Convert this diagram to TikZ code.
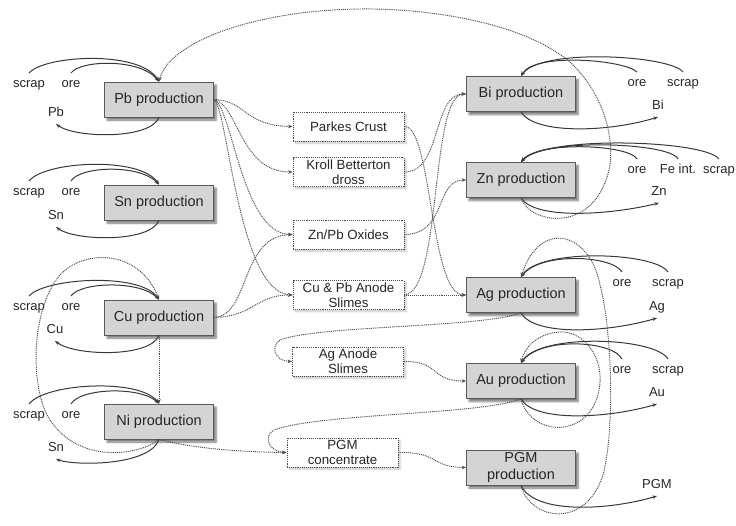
\documentclass[tikz,border=0pt]{standalone}
\usepackage{fontspec}
\setmainfont{Liberation Sans}
\usetikzlibrary{arrows.meta,shadows.blur}

\begin{document}
\begin{tikzpicture}[x=1pt,y=-1pt,
  prod/.style={draw=black!65, line width=0.8pt, fill=black!17,
    minimum width=109pt, minimum height=35pt, inner sep=2pt, align=center,
    font=\fontsize{14.5}{16.5}\selectfont, text=black!85,
    blur shadow={shadow xshift=2.5pt, shadow yshift=-3pt, shadow blur steps=6, shadow opacity=55}},
  inter/.style={draw=black!70, line width=0.9pt, dash pattern=on 1pt off 0.9pt, fill=white,
    minimum width=111pt, minimum height=29pt, inner sep=1pt, align=center,
    font=\fontsize{13.3}{15}\selectfont, text=black!85,
    blur shadow={shadow xshift=2pt, shadow yshift=-2pt, shadow blur steps=5, shadow opacity=22}},
  lab/.style={font=\fontsize{13}{15}\selectfont, text=black!85, inner sep=1pt, outer sep=4pt,
    text height=9pt, text depth=3pt},
  flow/.style={draw=black!78, line width=1pt, -{Stealth[length=4.5pt,width=3.5pt]}},
  link/.style={draw=black!70, line width=0.95pt, dash pattern=on 1pt off 0.9pt,
    -{Stealth[length=4.5pt,width=3.5pt]}},
]
\useasboundingbox (0,0) rectangle (736,525);

% production stages
\node[prod] (pb) at (159,99.5) {Pb production};
\node[prod] (sn) at (159,202.5) {Sn production};
\node[prod] (cu) at (159,317.5) {Cu production};
\node[prod] (ni) at (159,421.5) {Ni production};
\node[prod] (bi) at (521,94) {Bi production};
\node[prod] (zn) at (521,180) {Zn production};
\node[prod] (ag) at (521,295) {Ag production};
\node[prod] (au) at (521,381) {Au production};
\node[prod] (pgmp) at (521,467.5) {PGM\\production};

% intermediate products
\node[inter] (pc) at (348.5,126.5) {Parkes Crust};
\node[inter] (kb) at (348.5,172) {Kroll Betterton\\dross};
\node[inter] (zpo) at (348.5,234.5) {Zn/Pb Oxides};
\node[inter] (cpa) at (348.5,295) {Cu \& Pb Anode\\Slimes};
\node[inter] (aas) at (348,361.5) {Ag Anode\\Slimes};
\node[inter] (pgmc) at (342.5,452.5) {PGM\\concentrate};

% raw materials and metals, left column
\node[lab] (pbs) at (29,84) {scrap};
\node[lab] (pbo) at (71,84) {ore};
\node[lab] (pbm) at (56,113) {Pb};
\node[lab] (sns) at (29,192) {scrap};
\node[lab] (sno) at (71,192) {ore};
\node[lab] (snm) at (56,216) {Sn};
\node[lab] (cus) at (29,307) {scrap};
\node[lab] (cuo) at (71,307) {ore};
\node[lab] (cum) at (55,330) {Cu};
\node[lab] (nis) at (29,415) {scrap};
\node[lab] (nio) at (71,415) {ore};
\node[lab] (nim) at (56,448) {Sn};

% raw materials and metals, right column
\node[lab] (bio) at (637,83) {ore};
\node[lab] (bis) at (683,83) {scrap};
\node[lab] (bim) at (658,106) {Bi};
\node[lab] (zno) at (637,170) {ore};
\node[lab] (znf) at (678,170) {Fe int.};
\node[lab] (zns) at (719,170) {scrap};
\node[lab] (znm) at (659,192) {Zn};
\node[lab] (ago) at (622,283) {ore};
\node[lab] (ags) at (668,283) {scrap};
\node[lab] (agm) at (657,307) {Ag};
\node[lab] (auo) at (622,370) {ore};
\node[lab] (aus) at (668,370) {scrap};
\node[lab] (aum) at (657,393) {Au};
\node[lab] (pgmm) at (657,485) {PGM};

% feeds and products, left column
\draw[flow] (pbs.north) .. controls (45,55) and (140,50) .. (pb.north);
\draw[flow] (pbo.north) .. controls (80,60) and (140,58) .. (pb.north);
\draw[flow] (pb.south) .. controls (150,140) and (75,138) .. (pbm.south);
\draw[flow] (sns.north) .. controls (45,161) and (140,156) .. (sn.north);
\draw[flow] (sno.north) .. controls (80,166) and (140,164) .. (sn.north);
\draw[flow] (sn.south) .. controls (150,243) and (75,241) .. (snm.south);
\draw[flow] (cus.north) .. controls (45,278) and (140,272) .. (cu.north);
\draw[flow] (cuo.north) .. controls (80,282) and (140,280) .. (cu.north);
\draw[flow] (cu.south) .. controls (150,358) and (75,356) .. (cum.south);
\draw[flow] (nis.north) .. controls (45,383) and (140,378) .. (ni.north);
\draw[flow] (nio.north) .. controls (80,388) and (140,386) .. (ni.north);
\draw[flow] (ni.south) .. controls (150,466) and (75,466) .. (nim.south);

% feeds and products, right column
\draw[flow] (bio.north) .. controls (625,60) and (535,52) .. (bi.north);
\draw[flow] (bis.north) .. controls (670,55) and (540,48) .. (bi.north);
\draw[flow] (bi.south) .. controls (535,135) and (610,132) .. (bim.south);
\draw[flow] (zno.north) .. controls (630,145) and (540,140) .. (zn.north);
\draw[flow] (znf.north) .. controls (670,142) and (540,138) .. (zn.north);
\draw[flow] (zns.north) .. controls (705,140) and (545,135) .. (zn.north);
\draw[flow] (zn.south) .. controls (535,220) and (610,215) .. (znm.south);
\draw[flow] (ago.north) .. controls (612,255) and (540,252) .. (ag.north);
\draw[flow] (ags.north) .. controls (655,252) and (540,248) .. (ag.north);
\draw[flow] (ag.south) .. controls (535,337) and (610,332) .. (agm.south);
\draw[flow] (auo.north) .. controls (612,340) and (540,337) .. (au.north);
\draw[flow] (aus.north) .. controls (655,337) and (540,333) .. (au.north);
\draw[flow] (au.south) .. controls (535,423) and (610,418) .. (aum.south);
\draw[flow] (pgmp.south) .. controls (535,515) and (610,510) .. (pgmm.south);

% by-product routes
\draw[link] (pb.east) .. controls (245,100) and (245,126) .. (pc.west);
\draw[link] (pb.east) .. controls (238,104) and (240,172) .. (kb.west);
\draw[link] (pb.east) .. controls (232,106) and (242,234) .. (zpo.west);
\draw[link] (pb.east) .. controls (228,108) and (238,292) .. (cpa.west);
\draw[link] (cu.east) .. controls (250,316) and (240,236) .. (zpo.west);
\draw[link] (cu.east) .. controls (255,316) and (255,295) .. (cpa.west);
\draw[link] (pc.east) .. controls (432,126) and (430,295) .. (ag.west);
\draw[link] (kb.east) .. controls (442,172) and (432,94) .. (bi.west);
\draw[link] (zpo.east) .. controls (447,234) and (435,180) .. (zn.west);
\draw[link] (cpa.east) -- (ag.west);
\draw[link] (cpa.east) .. controls (442,292) and (430,94) .. (bi.west);
\draw[link] (cu.south) -- (ni.north);
\draw[link] (ni.south) .. controls (200,450) and (250,452) .. (pgmc.west);
\draw[link] (aas.east) .. controls (440,361) and (430,381) .. (au.west);
\draw[link] (pgmc.east) .. controls (440,452) and (430,467) .. (pgmp.west);

% residues returned to other stages
\draw[link] (zn.south) .. controls (530,225) and (597,235) .. (610,165)
  .. controls (614,130) and (600,90) .. (570,62)
  .. controls (520,20) and (420,8) .. (360,9)
  .. controls (260,10) and (170,40) .. (pb.north);
\draw[link] (ni.south) .. controls (140,455) and (80,465) .. (50,420)
  .. controls (30,390) and (30,310) .. (60,275)
  .. controls (85,248) and (140,250) .. (cu.north);
\draw[link] (ag.south) .. controls (480,328) and (320,325) .. (280,340)
  .. controls (270,347) and (275,361) .. (aas.west);
\draw[link] (au.south) .. controls (480,415) and (320,413) .. (274,430)
  .. controls (262,437) and (270,452) .. (pgmc.west);
\draw[link] (pgmp.south) .. controls (530,520) and (585,530) .. (603,475)
  .. controls (615,430) and (612,330) .. (600,285)
  .. controls (590,232) and (540,218) .. (ag.north);
\draw[link] (au.south) .. controls (530,435) and (585,440) .. (598,395)
  .. controls (608,355) and (580,330) .. (560,332)
  .. controls (540,333) and (525,345) .. (au.north);
\end{tikzpicture}
\end{document}
